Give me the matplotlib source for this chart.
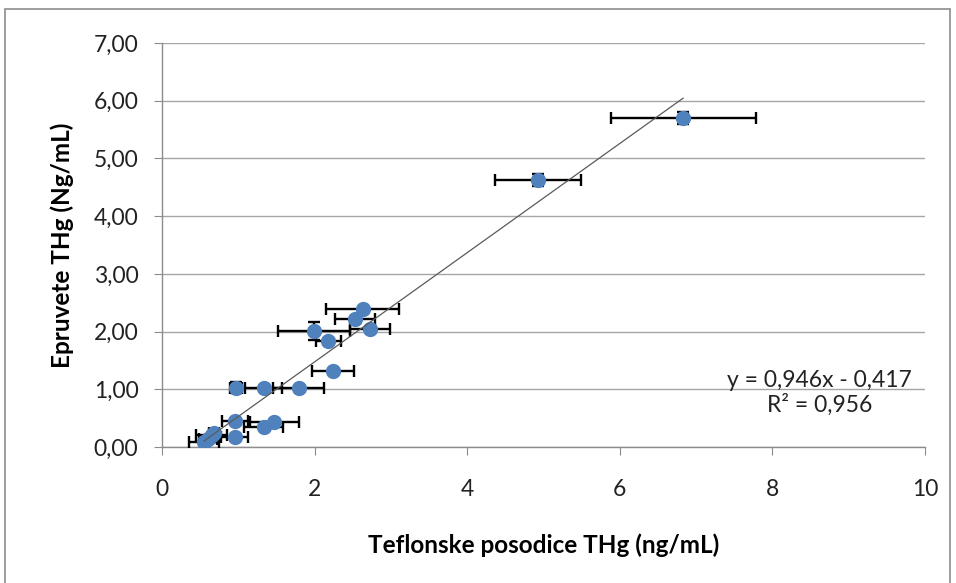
import matplotlib
matplotlib.use("Agg")
import matplotlib.pyplot as plt
from matplotlib.patches import Rectangle
from matplotlib.ticker import FuncFormatter
import numpy as np

# Teflon containers (x) vs test tubes (y), THg in ng/mL
teflon = [6.83, 4.93, 2.63, 2.53, 2.73, 1.99, 2.18, 2.24, 0.97, 1.33, 1.79,
          0.96, 1.47, 1.33, 0.95, 0.55, 0.60, 0.65, 0.68]
epruvete = [5.70, 4.63, 2.39, 2.22, 2.05, 2.01, 1.83, 1.32, 1.03, 1.03, 1.03,
            0.45, 0.44, 0.34, 0.17, 0.09, 0.14, 0.20, 0.24]
teflon_err = [0.95, 0.56, 0.48, 0.26, 0.26, 0.47, 0.16, 0.28, 0.08, 0.24, 0.33,
              0.17, 0.32, 0.26, 0.18, 0.20, 0.12, 0.20, 0.07]
epruvete_err = [0.10, 0.10, 0.0, 0.0, 0.0, 0.16, 0.0, 0.0, 0.10, 0.0, 0.0,
                0.0, 0.0, 0.0, 0.0, 0.0, 0.0, 0.0, 0.0]

slope = 0.946
intercept = -0.417
r_squared = 0.956

x_ticks = [0, 2, 4, 6, 8, 10]
y_ticks = [0, 1, 2, 3, 4, 5, 6, 7]

plt.rcParams["font.family"] = ["Lato", "DejaVu Sans"]

fig = plt.figure(figsize=(9.56, 5.83), dpi=100)
ax = fig.add_axes([0.1695, 0.2333, 0.798, 0.6929])

# outer chart border
fig.patches.append(Rectangle((0.005, -0.01), 0.989, 0.994, transform=fig.transFigure,
                             fill=False, edgecolor="#8c8c8c", linewidth=1.2))

ax.errorbar(teflon, epruvete, xerr=teflon_err, yerr=epruvete_err, fmt="none",
            ecolor="black", elinewidth=1.7, capsize=4.5, capthick=1.7, zorder=3)
ax.scatter(teflon, epruvete, s=100, color="#4F81BD", edgecolors="#4F81BD", zorder=4)

xs = np.array([min(teflon), max(teflon)])
ax.plot(xs, slope * xs + intercept, color="#5a5a5a", linewidth=0.9, zorder=5)

eq = f"y = {slope:.3f}x - {abs(intercept):.3f}\nR² = {r_squared:.3f}".replace(".", ",")
ax.text(8.62, 0.94, eq, ha="center", va="center",
        fontsize=16.5, color="#222222", linespacing=1.15)

ax.set_xlim(0, 10)
ax.set_ylim(0, 7)
ax.set_xticks(x_ticks)
ax.set_yticks(y_ticks)
ax.yaxis.set_major_formatter(FuncFormatter(lambda v, p: f"{v:.2f}".replace(".", ",")))
ax.grid(axis="y", color="#a6a6a6", linewidth=1.0)
ax.set_axisbelow(True)

for side in ["top", "right"]:
    ax.spines[side].set_visible(False)
for side in ["left", "bottom"]:
    ax.spines[side].set_color("#8c8c8c")
    ax.spines[side].set_linewidth(1.0)

ax.tick_params(axis="y", direction="out", length=6, color="#8c8c8c", pad=11,
               labelsize=16.5, labelcolor="#222222")
ax.tick_params(axis="x", direction="out", length=6, color="#8c8c8c", pad=17,
               labelsize=16.5, labelcolor="#222222")

ax.set_xlabel("Teflonske posodice THg (ng/mL)", fontsize=17.5, fontweight="bold",
              labelpad=24)
ax.set_ylabel("Epruvete THg (Ng/mL)", fontsize=17.5, fontweight="bold", labelpad=14)

fig.savefig("out.png", dpi=100)
